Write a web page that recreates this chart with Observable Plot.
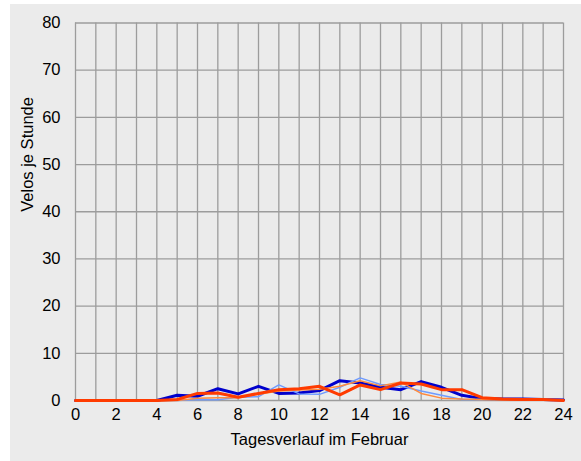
<!DOCTYPE html>
<html>
<head>
<meta charset="utf-8">
<script src="https://cdn.jsdelivr.net/npm/d3@7"></script>
<script src="https://cdn.jsdelivr.net/npm/@observablehq/plot@0.6"></script>
<style>
  html, body { margin: 0; padding: 0; background: #ffffff; }
  #bg { position: absolute; left: 10px; top: 4px; width: 571px; height: 457px; background: #ebebeb; }
  #chart { position: absolute; left: 0; top: 0; width: 581px; height: 461px; }
</style>
</head>
<body>
<div id="bg"></div>
<div id="chart"></div>
<script>
const hours = d3.range(0, 25);
const xTickLabels = [0, 2, 4, 6, 8, 10, 12, 14, 16, 18, 20, 22, 24];
const yTickLabels = [0, 10, 20, 30, 40, 50, 60, 70, 80];
const xTitle = "Tagesverlauf im Februar";
const yTitle = "Velos je Stunde";

const darkBlue   = [0,0,0,0,0,1.1,0.9,2.5,1.4,3.0,1.5,1.6,2.1,4.2,3.7,2.8,2.3,4.0,2.8,1.1,0.4,0.3,0.3,0.2,0.1];
const lightBlue  = [0,0,0,0,0,0,0.2,0.15,0.7,0.8,3.3,1.4,1.3,2.8,4.8,3.4,3.0,2.0,1.1,0.2,0.2,0.3,0.3,0.3,0.1];
const orangeThin = [0,0,0,0,0,0,0.5,0.6,0.6,1.3,2.0,2.2,2.4,3.0,4.2,3.1,3.9,1.5,0.5,0.3,0.2,0.1,0.1,0.1,0];
const redThick   = [0,0,0,0,0,0.2,1.5,1.6,0.7,1.5,2.3,2.5,3.0,1.2,3.3,2.3,3.7,3.5,2.3,2.3,0.6,0.3,0.2,0.2,0];

const toRows = arr => hours.map((h, i) => ({hour: h, value: arr[i]}));

const chart = Plot.plot({
  width: 581,
  height: 461,
  marginLeft: 75,
  marginRight: 18,
  marginTop: 22.5,
  marginBottom: 61,
  style: {
    background: "transparent",
    fontFamily: "'Liberation Sans', Arial, sans-serif",
    fontSize: "16.5px",
    color: "#000"
  },
  x: {domain: [0, 24], ticks: xTickLabels, tickSize: 0, tickPadding: 8, label: null},
  y: {domain: [0, 80], ticks: yTickLabels, tickSize: 0, tickPadding: 15, label: null},
  marks: [
    Plot.ruleX(hours, {x: d => d, stroke: "#9c9c9c", strokeWidth: 1.3}),
    Plot.ruleY(yTickLabels, {y: d => d, stroke: "#9c9c9c", strokeWidth: 1.3}),
    Plot.line(toRows(darkBlue), {x: "hour", y: "value", stroke: "#0000cc", strokeWidth: 3}),
    Plot.line(toRows(lightBlue), {x: "hour", y: "value", stroke: "#6f9bff", strokeWidth: 1.5}),
    Plot.line(toRows(orangeThin), {x: "hour", y: "value", stroke: "#ff8a3d", strokeWidth: 1.5}),
    Plot.line(toRows(redThick), {x: "hour", y: "value", stroke: "#ff3b00", strokeWidth: 3}),
    Plot.text([xTitle], {text: d => d, frameAnchor: "bottom", dy: 44, fontSize: 16.5, fill: "#000"}),
    Plot.text([yTitle], {text: d => d, frameAnchor: "left", rotate: -90, dx: -48, fontSize: 16.5, fill: "#000"})
  ]
});
document.getElementById("chart").appendChild(chart);
</script>
</body>
</html>
